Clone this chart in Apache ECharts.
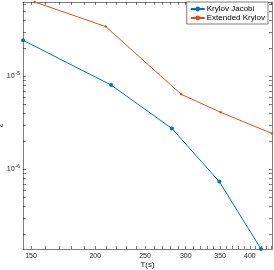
<!DOCTYPE html>
<html>
<head>
<meta charset="utf-8">
<script src="https://cdn.jsdelivr.net/npm/echarts@6/dist/echarts.min.js"></script>
<style>
html,body{margin:0;padding:0;background:#fff;}
#chart{width:274px;height:270px;}
</style>
</head>
<body>
<div id="chart"></div>
<script>
// Data (log-log plot)
const seriesNames = ['Krylov Jacobi', 'Extended Krylov'];
const tJacobi = [144.7, 214.7, 282, 348.7, 420.4];
const epsJacobi = [2.45e-5, 8.08e-6, 2.75e-6, 7.38e-7, 1.39e-7];
const tExtended = [152.5, 209.6, 294.1, 351, 441.6];
const epsExtended = [6.32e-5, 3.44e-5, 6.41e-6, 4.11e-6, 2.43e-6];
const xTickLabels = [150, 200, 250, 300, 350, 400];
const xMinorTicks = [150,160,170,180,190,200,210,220,230,240,250,260,270,280,290,300,310,320,330,340,350,360,370,380,390,400,410,420,430,440];
const yTickLabels = [1e-6, 1e-5];
const yMinorTicks = [2e-7,3e-7,4e-7,5e-7,6e-7,7e-7,8e-7,9e-7,1e-6,2e-6,3e-6,4e-6,5e-6,6e-6,7e-6,8e-6,9e-6,1e-5,2e-5,3e-5,4e-5,5e-5,6e-5];

const xMin = Math.min(...tJacobi, ...tExtended);
const xMax = Math.max(...tJacobi, ...tExtended);
const yMin = Math.min(...epsJacobi, ...epsExtended);
const yMax = Math.max(...epsJacobi, ...epsExtended);

const FONT = 'Liberation Sans, Arial, Helvetica, sans-serif';
const AX = '#262626';

function pair(xs, ys){ return xs.map((x,i)=>[x, ys[i]]); }

const chart = echarts.init(document.getElementById('chart'), null, {renderer:'canvas'});

const axisLineStyle = {color: AX, width: 0.6};
const tickStyle = {show:true, inside:true, length:3, lineStyle:{color: AX, width:0.6}};

chart.setOption({
  animation: false,
  backgroundColor: '#fff',
  grid: {left: 23, right: 2, top: 2, bottom: 21, containLabel: false, outerBoundsMode: 'none'},
  legend: {
    data: seriesNames,
    orient: 'vertical',
    right: 6, top: 2,
    padding: [3, 3, 2, 3],
    itemGap: 1,
    itemWidth: 14, itemHeight: 6,
    backgroundColor: '#fff',
    borderColor: AX, borderWidth: 0.6,
    textStyle: {fontFamily: FONT, fontSize: 8, color: '#000', padding:[0,0,0,-3]}
  },
  xAxis: [{
    type: 'log', logBase: 10,
    min: xMin, max: xMax,
    position: 'bottom',
    name: 'T(s)', nameLocation: 'middle', nameGap: 12, nameMoveOverlap: false,
    nameTextStyle: {fontFamily: FONT, fontSize: 8, color: AX, verticalAlign: 'top'},
    axisLine: {show:true, lineStyle: axisLineStyle},
    axisTick: Object.assign({customValues: xMinorTicks}, tickStyle),
    axisLabel: {customValues: xTickLabels, fontFamily: FONT, fontSize: 7, color: AX, margin: 4,
      formatter: v => String(Math.round(v))},
    splitLine: {show:false}
  }, {
    type: 'log', logBase: 10,
    min: xMin, max: xMax,
    position: 'top',
    axisLine: {show:true, lineStyle: axisLineStyle},
    axisTick: Object.assign({customValues: xMinorTicks}, tickStyle),
    axisLabel: {show:false},
    splitLine: {show:false}
  }],
  yAxis: [{
    type: 'log', logBase: 10,
    min: yMin, max: yMax,
    position: 'left',
    name: 'ε', nameLocation: 'middle', nameGap: 18, nameRotate: 90, nameMoveOverlap: false,
    nameTextStyle: {fontFamily: FONT, fontSize: 7, color: AX},
    axisLine: {show:true, lineStyle: axisLineStyle},
    axisTick: Object.assign({customValues: yMinorTicks}, tickStyle),
    axisLabel: {customValues: yTickLabels, fontFamily: FONT, fontSize: 7, color: AX, margin: 3,
      formatter: v => '10{sup|' + Math.round(Math.log10(v)) + '}',
      rich: {sup: {fontSize: 5, fontFamily: FONT, color: AX, padding: [0,0,5,1]}}
    },
    splitLine: {show:false}
  }, {
    type: 'log', logBase: 10,
    min: yMin, max: yMax,
    position: 'right',
    axisLine: {show:true, lineStyle: axisLineStyle},
    axisTick: Object.assign({customValues: yMinorTicks}, tickStyle),
    axisLabel: {show:false},
    splitLine: {show:false}
  }],
  series: [{
    name: seriesNames[0], type: 'line',
    xAxisIndex: 0, yAxisIndex: 0,
    data: pair(tJacobi, epsJacobi),
    symbol: 'circle', symbolSize: 4,
    lineStyle: {color: '#0072BD', width: 1},
    itemStyle: {color: '#0072BD'},
    clip: false
  }, {
    name: seriesNames[1], type: 'line',
    xAxisIndex: 0, yAxisIndex: 0,
    data: pair(tExtended, epsExtended),
    symbol: 'circle', symbolSize: 2.5,
    lineStyle: {color: '#D95319', width: 1},
    itemStyle: {color: '#D95319'},
    clip: false
  }]
});
</script>
</body>
</html>
